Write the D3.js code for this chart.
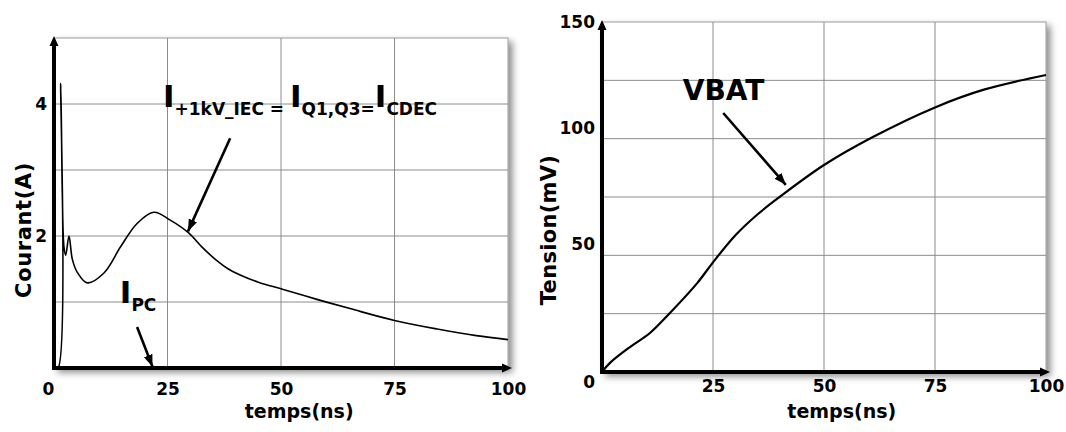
<!DOCTYPE html>
<html>
<head>
<meta charset="utf-8">
<script src="https://cdn.jsdelivr.net/npm/d3@7"></script>
<style>
body { margin: 0; background: #fff; }
text { font-family: "DejaVu Sans", sans-serif; font-weight: bold; fill: #000; }
</style>
</head>
<body>
<script>
// left panel : current through the protection (A) vs time (ns)
var curT = [0, 0.88, 1.48, 1.83, 2.2, 2.58, 3.3, 4.03, 5.13, 7.33, 11.0, 14.7, 18.3, 22.0, 25.6, 29.6, 32.5, 35.8, 38.4, 41, 45, 50.5, 57.9, 65.2, 75, 84.4, 93, 100];
var curA = [0, 0, 4.31, 2.65, 1.83, 1.71, 2.0, 1.65, 1.45, 1.29, 1.44, 1.84, 2.19, 2.36, 2.24, 2.05, 1.84, 1.63, 1.50, 1.41, 1.30, 1.19, 1.04, 0.90, 0.72, 0.59, 0.49, 0.43];
var curXTicks = [0, 25, 50, 75, 100];
var curYTicks = [2, 4];
var curGridY = [1, 2, 3, 4];

// right panel : battery voltage (mV) vs time (ns)
var vbatT = [0, 1.8, 6.3, 10.8, 15.3, 21.4, 25, 30, 35, 40, 50, 61, 75, 86, 100];
var vbatMV = [0, 3.9, 10.7, 16.7, 25.3, 38, 47, 58.5, 67.5, 75, 88.7, 100.7, 113.4, 121, 127.3];
var volXTicks = [25, 50, 75, 100];
var volYTicks = [0, 50, 100, 150];
var volGridY = [25, 50, 75, 100, 125];

var gridX = [25, 50, 75];

var W = 1066, H = 432;

var svg = d3.select("body").append("svg")
    .attr("width", W)
    .attr("height", H);

var defs = svg.append("defs");

var shadow = defs.append("filter").attr("id", "shadow")
    .attr("x", "-5%").attr("y", "-5%").attr("width", "115%").attr("height", "115%");
shadow.append("feDropShadow")
    .attr("dx", 4).attr("dy", 4).attr("stdDeviation", 3.5)
    .attr("flood-color", "#000").attr("flood-opacity", 0.45);

defs.append("marker").attr("id", "axisArrow")
    .attr("markerUnits", "userSpaceOnUse")
    .attr("markerWidth", 12).attr("markerHeight", 12)
    .attr("viewBox", "0 -6 12 12")
    .attr("refX", 0).attr("refY", 0)
    .attr("orient", "auto")
  .append("path").attr("d", "M0,-4.5L10,0L0,4.5Z").attr("fill", "#000");

defs.append("marker").attr("id", "pointer")
    .attr("markerUnits", "userSpaceOnUse")
    .attr("markerWidth", 14).attr("markerHeight", 14)
    .attr("viewBox", "0 -7 14 14")
    .attr("refX", 12).attr("refY", 0)
    .attr("orient", "auto")
  .append("path").attr("d", "M0,-4.5L12,0L0,4.5Z").attr("fill", "#000");

function panel(cfg) {
  var g = svg.append("g");
  var top = cfg.yDomain[1];
  var x = d3.scaleLinear().domain([0, 100]).range(cfg.xRange);
  var y = d3.scaleLinear().domain(cfg.yDomain).range(cfg.yRange);

  // plot frame with its drop shadow
  g.append("rect")
      .attr("x", x(0)).attr("y", y(top))
      .attr("width", x(100) - x(0)).attr("height", y(0) - y(top))
      .attr("fill", "#fff")
      .attr("stroke", "#9a9a9a")
      .attr("filter", "url(#shadow)");

  g.selectAll(".gx").data(gridX).enter().append("line")
      .attr("class", "gx")
      .attr("x1", function(d) { return x(d); }).attr("x2", function(d) { return x(d); })
      .attr("y1", y(0)).attr("y2", y(top))
      .attr("stroke", "#8c8c8c").attr("stroke-width", 1);

  g.selectAll(".gy").data(cfg.gridY).enter().append("line")
      .attr("class", "gy")
      .attr("x1", x(0)).attr("x2", x(100))
      .attr("y1", function(d) { return y(d); }).attr("y2", function(d) { return y(d); })
      .attr("stroke", "#8c8c8c").attr("stroke-width", 1);

  var line = d3.line()
      .x(function(d, i) { return x(cfg.t[i]); })
      .y(function(d) { return y(d); })
      .curve(d3.curveCatmullRom.alpha(0.5));

  g.append("path")
      .datum(cfg.v)
      .attr("d", line)
      .attr("fill", "none")
      .attr("stroke", "#000")
      .attr("stroke-width", cfg.lineWidth)
      .attr("stroke-linejoin", "round");

  // thick axes with arrow heads
  g.append("line")
      .attr("x1", x(0)).attr("x2", x(0))
      .attr("y1", y(0) + 2).attr("y2", y(top) + 8)
      .attr("stroke", "#000").attr("stroke-width", 4)
      .attr("marker-end", "url(#axisArrow)");
  g.append("line")
      .attr("x1", x(0) - 2).attr("x2", x(100) - 6)
      .attr("y1", y(0)).attr("y2", y(0))
      .attr("stroke", "#000").attr("stroke-width", 4)
      .attr("marker-end", "url(#axisArrow)");

  // tick labels
  var ax = g.append("g")
      .attr("transform", "translate(0," + (y(0) + cfg.xLabelGap) + ")")
      .call(d3.axisBottom(x).tickValues(cfg.xTicks).tickSize(0).tickPadding(0).tickFormat(d3.format("d")));
  ax.select(".domain").remove();
  ax.selectAll("text")
      .attr("font-size", 17).attr("font-family", "DejaVu Sans")
      .attr("x", function(d) { return d === 0 ? -6 : 0; });

  var ay = g.append("g")
      .attr("transform", "translate(" + x(0) + ",0)")
      .call(d3.axisLeft(y).tickValues(cfg.yTicks).tickSize(0).tickPadding(7).tickFormat(d3.format("d")));
  ay.select(".domain").remove();
  ay.selectAll("text")
      .attr("font-size", 17).attr("font-family", "DejaVu Sans")
      .attr("y", cfg.yLabelShift);

  g.append("text")
      .attr("x", x(54)).attr("y", 418)
      .attr("text-anchor", "middle")
      .attr("font-size", 19)
      .text("temps(ns)");

  g.append("text")
      .attr("transform", "translate(" + cfg.yTitleX + ",230) rotate(-90)")
      .attr("text-anchor", "middle")
      .attr("font-size", 21)
      .attr("letter-spacing", cfg.yTitleSpacing)
      .text(cfg.yTitle);

  return { g: g, x: x, y: y };
}

var left = panel({
  xRange: [54, 508], yDomain: [0, 5], yRange: [368, 38],
  gridY: curGridY, xTicks: curXTicks, yTicks: curYTicks,
  t: curT, v: curA, lineWidth: 1.6,
  xLabelGap: 15, yLabelShift: function() { return 0; },
  yTitle: "Courant(A)", yTitleX: 31, yTitleSpacing: 0.6
});

var right = panel({
  xRange: [602, 1046], yDomain: [0, 150], yRange: [372, 22],
  gridY: volGridY, xTicks: volXTicks, yTicks: volYTicks,
  t: vbatT, v: vbatMV, lineWidth: 2.2,
  xLabelGap: 8, yLabelShift: function(d) { return d === 0 ? 10 : (d === 150 ? 0 : -11); },
  yTitle: "Tension(mV)", yTitleX: 556, yTitleSpacing: 0.3
});

// annotations: label with subscripts + pointing arrow
function label(p, tx, ty, parts) {
  var t = p.g.append("text").attr("x", p.x(tx)).attr("y", p.y(ty));
  parts.forEach(function(s, i) {
    var sub = i % 2 === 1;
    t.append("tspan")
        .attr("font-size", sub ? 17 : 31)
        .attr("dy", i === 0 ? 0 : (sub ? 8 : -8))
        .text(s);
  });
}
function pointer(p, a) {
  p.g.append("line")
      .attr("x1", p.x(a[0])).attr("y1", p.y(a[1]))
      .attr("x2", p.x(a[2])).attr("y2", p.y(a[3]))
      .attr("stroke", "#000").attr("stroke-width", 2.6)
      .attr("marker-end", "url(#pointer)");
}

label(left, 24, 3.95, ["I", "+1kV_IEC = ", "I", "Q1,Q3=", "I", "CDEC"]);
pointer(left, [38.8, 3.48, 29.5, 2.07]);
label(left, 14.5, 0.98, ["I", "PC"]);
pointer(left, [18.3, 0.62, 21.7, 0.02]);

right.g.append("text")
    .attr("x", right.x(18.2)).attr("y", right.y(116.6))
    .attr("font-size", 28)
    .text("VBAT");
pointer(right, [27.3, 111, 41.4, 80.2]);
</script>
</body>
</html>
